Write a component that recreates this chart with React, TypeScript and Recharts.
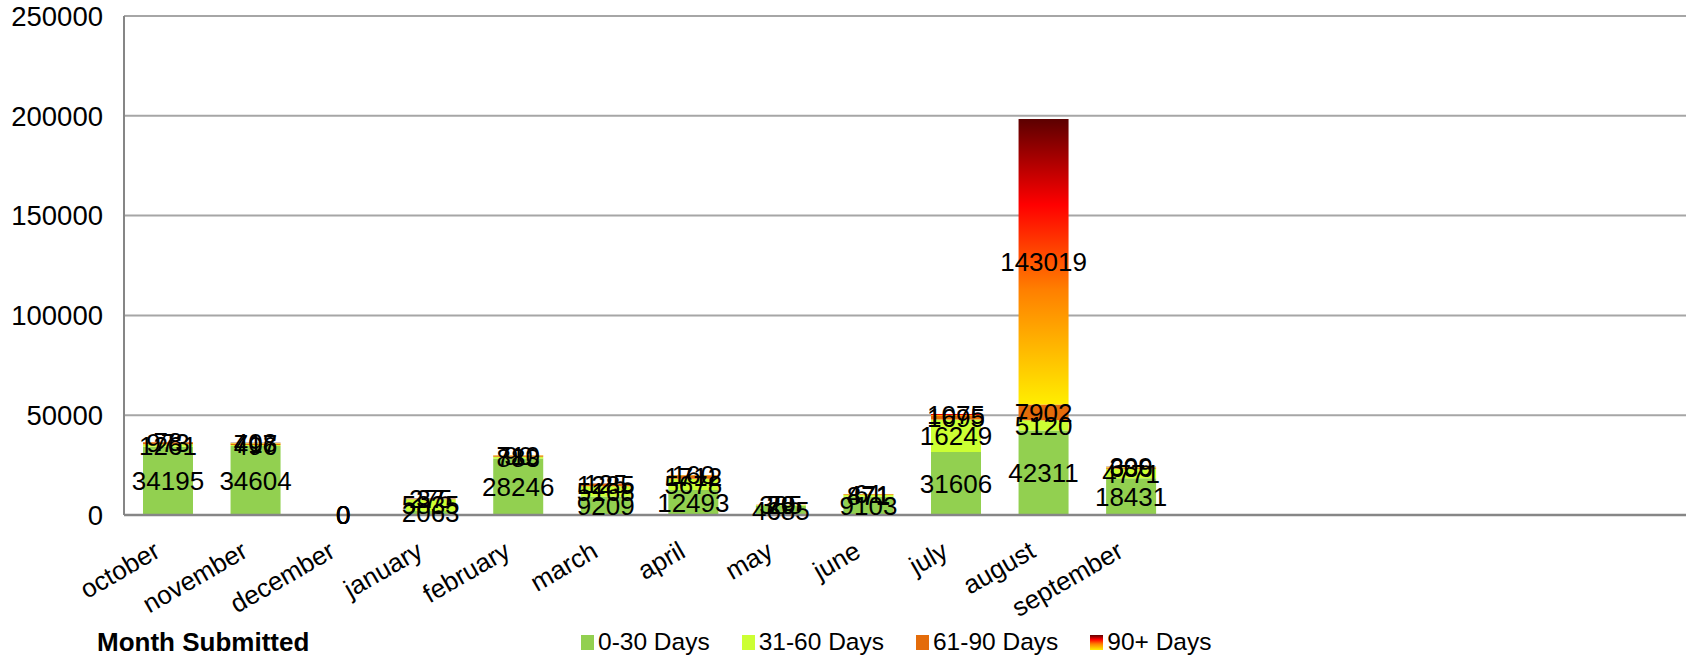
import React from 'react'
import {
  BarChart,
  Bar,
  XAxis,
  YAxis,
  CartesianGrid,
  Legend,
  LabelList
} from 'recharts'

// Month submitted (fiscal year order), plus a few unused slots on the axis
const months = [
  'october', 'november', 'december', 'january', 'february', 'march',
  'april', 'may', 'june', 'july', 'august', 'september'
]
const unusedSlots = 6

// Claim counts by age bucket
const days0to30 = [34195, 34604, 0, 2063, 28246, 9209, 12493, 4685, 9103, 31606, 42311, 18431]
const days31to60 = [1261, 496, 0, 5835, 883, 5168, 5678, 385, 871, 16249, 5120, 4771]
const days61to90 = [973, 717, 0, 275, 710, 1285, 1712, 79, 471, 1695, 7902, 636]
const days90plus = [78, 408, 0, 37, 90, 125, 160, 20, 61, 1075, 143019, 309]

const yTicks = [0, 50000, 100000, 150000, 200000, 250000]

const series = [
  { key: 'd0', name: '0-30 Days', fill: '#92d050' },
  { key: 'd31', name: '31-60 Days', fill: '#ccff33' },
  { key: 'd61', name: '61-90 Days', fill: '#e46c0a' },
  { key: 'd90', name: '90+ Days', fill: 'url(#hotGradient)' }
]

const data = [
  ...months.map((m, i) => ({
    month: m,
    d0: days0to30[i],
    d31: days31to60[i],
    d61: days61to90[i],
    d90: days90plus[i]
  })),
  ...Array.from({ length: unusedSlots }, () => ({
    month: '',
    d0: null,
    d31: null,
    d61: null,
    d90: null
  }))
]

const FONT = '"Liberation Sans", Arial, sans-serif'

// zero counts still get a (hairline) bar so their "0" label is drawn
const zeroStub = (value: any) => (value === 0 ? 0.01 : 0)

const MonthTick = ({ x, y, payload }: any) => {
  if (!payload.value) return null
  const tx = x - 6
  const ty = y + 41
  return (
    <text
      x={tx}
      y={ty}
      transform={`rotate(-30, ${tx}, ${ty})`}
      textAnchor="end"
      fontSize={26}
      fontFamily={FONT}
      fill="#000"
    >
      {payload.value}
    </text>
  )
}

const LegendRow = () => (
  <div style={{ position: 'relative', width: 1686, height: 40, fontFamily: FONT }}>
    <div
      style={{
        position: 'absolute',
        left: 97,
        top: 4,
        fontSize: 26,
        fontWeight: 'bold',
        color: '#000'
      }}
    >
      Month Submitted
    </div>
    <div
      style={{
        position: 'absolute',
        left: 581,
        top: 5,
        display: 'flex',
        alignItems: 'center',
        gap: 32,
        fontSize: 24.5,
        color: '#000'
      }}
    >
      {series.map(s => (
        <div key={s.key} style={{ display: 'flex', alignItems: 'center', gap: 4 }}>
          <span
            style={{
              display: 'inline-block',
              width: 13,
              height: 15,
              background:
                s.key === 'd90'
                  ? 'linear-gradient(#5c0000, #ff0000 30%, #ff8000 60%, #ffee00)'
                  : s.fill
            }}
          />
          <span>{s.name}</span>
        </div>
      ))}
    </div>
  </div>
)

export default function App() {
  return (
    <div
      style={{
        position: 'absolute',
        left: 0,
        top: 0,
        width: 1686,
        height: 663,
        overflow: 'hidden',
        background: '#fff'
      }}
    >
      {/* plot area runs a little past the right edge */}
      <BarChart
        width={1700}
        height={663}
        data={data}
        margin={{ top: 16, right: 0, bottom: 0, left: 0 }}
      >
        <defs>
          <linearGradient id="hotGradient" x1="0" y1="0" x2="0" y2="1">
            <stop offset="0%" stopColor="#5c0000" />
            <stop offset="30%" stopColor="#ff0000" />
            <stop offset="60%" stopColor="#ff8000" />
            <stop offset="100%" stopColor="#ffee00" />
          </linearGradient>
        </defs>
        <CartesianGrid vertical={false} stroke="#a6a6a6" strokeWidth={2} />
        <XAxis
          dataKey="month"
          height={108}
          tickLine={false}
          tickSize={0}
          tickMargin={0}
          interval={0}
          axisLine={{ stroke: '#868686', strokeWidth: 2.5 }}
          tick={<MonthTick />}
        />
        <YAxis
          width={124}
          domain={[0, 250000]}
          ticks={yTicks}
          tickLine={false}
          tickSize={0}
          tickMargin={21}
          axisLine={{ stroke: '#868686', strokeWidth: 2 }}
          tick={{ fontSize: 27.5, fill: '#000', fontFamily: FONT }}
        />
        <Legend verticalAlign="bottom" height={40} content={<LegendRow />} />
        {series.map(s => (
          <Bar
            key={s.key}
            dataKey={s.key}
            name={s.name}
            stackId="age"
            fill={s.fill}
            barSize={50}
            minPointSize={zeroStub}
            isAnimationActive={false}
          >
            <LabelList
              dataKey={s.key}
              position="center"
              fill="#000"
              fontSize={26}
              fontFamily={FONT}
            />
          </Bar>
        ))}
      </BarChart>
    </div>
  )
}
